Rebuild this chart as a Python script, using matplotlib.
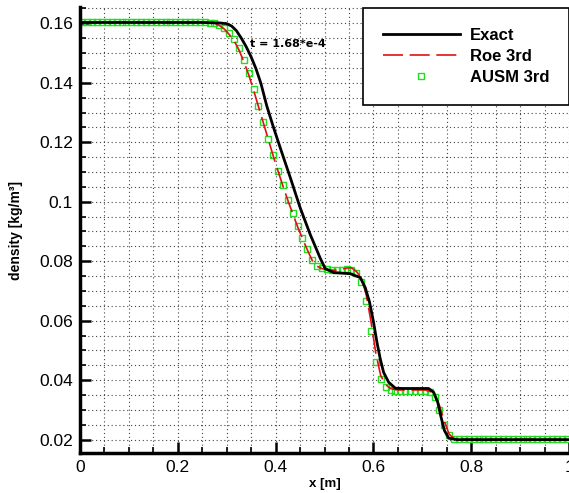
import matplotlib
matplotlib.use('Agg')
import matplotlib.pyplot as plt
from matplotlib.ticker import MultipleLocator

# exact solution
exact_x = [0.0, 0.25, 0.27, 0.287, 0.30, 0.31, 0.32, 0.33, 0.34, 0.35,
           0.36, 0.37, 0.382, 0.3957, 0.4094, 0.4196, 0.4299, 0.4504, 0.4708, 0.4913,
           0.5015, 0.5185, 0.5527, 0.5732, 0.5834, 0.5923, 0.6004, 0.6073, 0.6141, 0.6209,
           0.6312, 0.6448, 0.66, 0.713, 0.7233, 0.7315, 0.7383, 0.7451, 0.754, 0.771, 1.0]
exact_rho = [0.1603, 0.1603, 0.1602, 0.1601, 0.1599, 0.1591, 0.1575, 0.1550, 0.1521, 0.1487,
             0.1447, 0.1398, 0.1322, 0.1250, 0.1182, 0.1132, 0.1082, 0.0979, 0.0890, 0.0810,
             0.0775, 0.0762, 0.0758, 0.0745, 0.0711, 0.0661, 0.0594, 0.0527, 0.0471, 0.0426,
             0.0393, 0.0373, 0.0372, 0.0372, 0.0359, 0.0326, 0.0276, 0.0231, 0.0205, 0.0200, 0.0200]

# 100 cell centres
cell_x = [0.005, 0.015, 0.025, 0.035, 0.045, 0.055, 0.065, 0.075, 0.085, 0.095,
          0.105, 0.115, 0.125, 0.135, 0.145, 0.155, 0.165, 0.175, 0.185, 0.195,
          0.205, 0.215, 0.225, 0.235, 0.245, 0.255, 0.265, 0.275, 0.285, 0.295,
          0.305, 0.315, 0.325, 0.335, 0.345, 0.355, 0.365, 0.375, 0.385, 0.395,
          0.405, 0.415, 0.425, 0.435, 0.445, 0.455, 0.465, 0.475, 0.485, 0.495,
          0.505, 0.515, 0.525, 0.535, 0.545, 0.555, 0.565, 0.575, 0.585, 0.595,
          0.605, 0.615, 0.625, 0.635, 0.645, 0.655, 0.665, 0.675, 0.685, 0.695,
          0.705, 0.715, 0.725, 0.735, 0.745, 0.755, 0.765, 0.775, 0.785, 0.795,
          0.805, 0.815, 0.825, 0.835, 0.845, 0.855, 0.865, 0.875, 0.885, 0.895,
          0.905, 0.915, 0.925, 0.935, 0.945, 0.955, 0.965, 0.975, 0.985, 0.995]

roe_rho = [0.1603, 0.1603, 0.1603, 0.1603, 0.1603, 0.1603, 0.1603, 0.1603, 0.1603, 0.1603,
           0.1603, 0.1603, 0.1603, 0.1603, 0.1603, 0.1603, 0.1603, 0.1603, 0.1603, 0.1603,
           0.1603, 0.1603, 0.1603, 0.1603, 0.1603, 0.1603, 0.1602, 0.1599, 0.1593, 0.1581,
           0.1563, 0.1542, 0.1511, 0.1471, 0.1427, 0.1375, 0.1320, 0.1265, 0.1210, 0.1155,
           0.1103, 0.1053, 0.1005, 0.0960, 0.0916, 0.0876, 0.0838, 0.0802, 0.0783, 0.0775,
           0.0772, 0.0770, 0.0770, 0.0772, 0.0777, 0.0778, 0.0766, 0.0745, 0.0690, 0.0598,
           0.0490, 0.0415, 0.0385, 0.0372, 0.0368, 0.0367, 0.0367, 0.0367, 0.0367, 0.0367,
           0.0367, 0.0363, 0.0350, 0.0315, 0.0262, 0.0218, 0.0204, 0.0201, 0.0201, 0.0201,
           0.0201, 0.0201, 0.0201, 0.0201, 0.0201, 0.0201, 0.0201, 0.0201, 0.0201, 0.0201,
           0.0201, 0.0201, 0.0201, 0.0201, 0.0201, 0.0201, 0.0201, 0.0201, 0.0201, 0.0201]

ausm_rho = [0.1603, 0.1603, 0.1603, 0.1603, 0.1603, 0.1603, 0.1603, 0.1603, 0.1603, 0.1603,
            0.1603, 0.1603, 0.1603, 0.1603, 0.1603, 0.1603, 0.1603, 0.1603, 0.1603, 0.1603,
            0.1603, 0.1603, 0.1603, 0.1603, 0.1603, 0.1603, 0.1602, 0.1600, 0.1594, 0.1583,
            0.1566, 0.1546, 0.1516, 0.1476, 0.1432, 0.1379, 0.1323, 0.1267, 0.1212, 0.1157,
            0.1105, 0.1055, 0.1007, 0.0962, 0.0918, 0.0878, 0.0840, 0.0803, 0.0784, 0.0776,
            0.0773, 0.0771, 0.0771, 0.0772, 0.0775, 0.0772, 0.0761, 0.0730, 0.0667, 0.0566,
            0.0460, 0.0403, 0.0378, 0.0368, 0.0365, 0.0365, 0.0365, 0.0365, 0.0365, 0.0365,
            0.0365, 0.0360, 0.0343, 0.0301, 0.0248, 0.0214, 0.0203, 0.0201, 0.0201, 0.0201,
            0.0201, 0.0201, 0.0201, 0.0201, 0.0201, 0.0201, 0.0201, 0.0201, 0.0201, 0.0201,
            0.0201, 0.0201, 0.0201, 0.0201, 0.0201, 0.0201, 0.0201, 0.0201, 0.0201, 0.0201]

x_ticks = [0, 0.2, 0.4, 0.6, 0.8, 1.0]
x_tick_labels = ['0', '0.2', '0.4', '0.6', '0.8', '1']
y_ticks = [0.02, 0.04, 0.06, 0.08, 0.10, 0.12, 0.14, 0.16]
y_tick_labels = ['0.02', '0.04', '0.06', '0.08', '0.1', '0.12', '0.14', '0.16']

plt.rcParams['font.family'] = ['Liberation Sans', 'DejaVu Sans']

fig = plt.figure(figsize=(5.69, 4.93), dpi=100)
ax = fig.add_axes([0.1406, 0.0811, 0.8594, 0.9047])

# plot order: numerical data below, exact on top
l_roe, = ax.plot(cell_x, roe_rho, color='#e01010', lw=1.2, dashes=(12, 4), zorder=3)
l_ausm, = ax.plot(cell_x, ausm_rho, ls='none', marker='s', ms=4.2, mfc='none',
                  mec='#22dd22', mew=1.0, zorder=2)
l_exact, = ax.plot(exact_x, exact_rho, color='black', lw=2.0, zorder=4)

ax.set_xlim(0, 1.0)
ax.set_ylim(0.0155, 0.1655)

ax.set_xticks(x_ticks)
ax.set_xticklabels(x_tick_labels)
ax.set_yticks(y_ticks)
ax.set_yticklabels(y_tick_labels)
ax.xaxis.set_minor_locator(MultipleLocator(0.05))
ax.yaxis.set_minor_locator(MultipleLocator(0.005))

ax.tick_params(which='major', direction='in', length=8, width=1.8, labelsize=12.5, pad=5)
ax.tick_params(which='minor', direction='in', length=4, width=1.2)
ax.tick_params(top=False, right=False)

ax.grid(which='both', color='#444444', lw=0.8, ls=(0, (1, 2.5)))
ax.set_axisbelow(True)

for side in ['top', 'right']:
    ax.spines[side].set_visible(False)
for side in ['left', 'bottom']:
    ax.spines[side].set_linewidth(2.5)

ax.set_xlabel('x [m]', fontsize=9.5, fontweight='bold', labelpad=2)
ax.set_ylabel('density [kg/m³]', fontsize=10, fontweight='bold', labelpad=12)

ax.text(0.348, 0.1531, 't = 1.68*e-4', fontsize=8, fontweight='bold',
        family='DejaVu Sans', va='center', ha='left', zorder=5)

leg = ax.legend([l_exact, l_roe, l_ausm], ['Exact', 'Roe 3rd', 'AUSM 3rd'],
                loc='upper right', bbox_to_anchor=(1.0, 0.998), borderaxespad=0,
                prop={'weight': 'bold', 'size': 12}, handlelength=4.6,
                handletextpad=0.6, labelspacing=0.36, borderpad=1.2,
                numpoints=1, fancybox=False, framealpha=1)
leg.get_frame().set_edgecolor('black')
leg.get_frame().set_linewidth(1.2)
leg.set_zorder(10)

fig.savefig('out.png', dpi=100)
